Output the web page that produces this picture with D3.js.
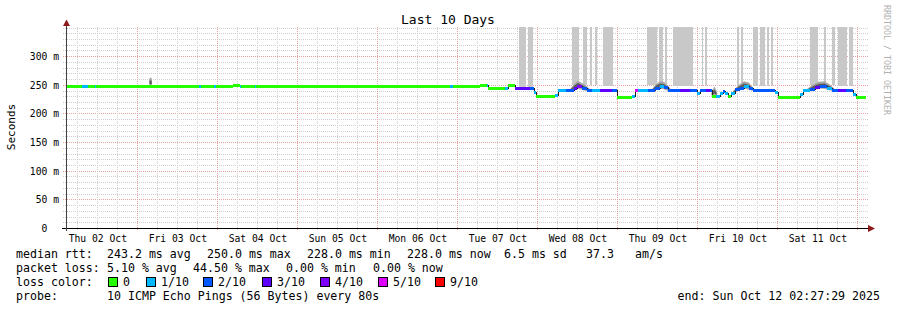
<!DOCTYPE html>
<html><head><meta charset="utf-8">
<script src="https://cdn.jsdelivr.net/npm/d3@7"></script>
<style>
body{margin:0;background:#fff}
svg{display:block}
text{font-family:"DejaVu Sans Mono",monospace;fill:#000}
</style>
</head><body>
<svg id="chart" width="897" height="310"></svg>
<script>
// ---------------- DATA ----------------
const title = "Last 10 Days";
const startTime = "10-02 02:27:29";
const endTime = "10-12 02:27:29";
const yTickValues = [0, 50, 100, 150, 200, 250, 300];
const yTickLabels = ["0  ", "50 m", "100 m", "150 m", "200 m", "250 m", "300 m"];
const xTickLabels = ["Thu 02 Oct","Fri 03 Oct","Sat 04 Oct","Sun 05 Oct","Mon 06 Oct","Tue 07 Oct","Wed 08 Oct","Thu 09 Oct","Fri 10 Oct","Sat 11 Oct"];
const xTickDays = ["10-02","10-03","10-04","10-05","10-06","10-07","10-08","10-09","10-10","10-11"];

// median rtt (ms) as steps, with loss level index per step
const medianTimes = ["10-02 02:27","10-02 07:15","10-02 09:05","10-02 11:10","10-02 11:35","10-03 18:20","10-03 18:50","10-03 22:50","10-03 23:20","10-04 04:35","10-04 06:40","10-04 07:05","10-04 11:10","10-04 11:35","10-06 00:40","10-06 21:40","10-06 22:35","10-06 23:45","10-07 06:40","10-07 08:45","10-07 09:12","10-07 14:10","10-07 15:05","10-07 17:10","10-07 21:40","10-07 22:50","10-07 23:35","10-08 05:10","10-08 06:05","10-08 08:30","10-08 10:50","10-08 11:45","10-08 13:15","10-08 14:45","10-08 16:15","10-08 18:40","10-08 22:15","10-08 23:45","10-09 04:15","10-09 05:10","10-09 06:05","10-09 09:05","10-09 11:10","10-09 12:40","10-09 13:50","10-09 15:05","10-09 18:40","10-09 21:40","10-09 23:45","10-10 00:40","10-10 02:28","10-10 03:40","10-10 04:15","10-10 05:28","10-10 06:40","10-10 07:35","10-10 08:10","10-10 09:05","10-10 10:00","10-10 11:10","10-10 12:40","10-10 13:50","10-10 15:20","10-10 16:35","10-10 23:10","10-10 23:55","10-11 06:40","10-11 07:35","10-11 09:40","10-11 11:10","10-11 12:40","10-11 14:45","10-11 16:15","10-11 18:05","10-11 20:30","10-11 22:35","10-11 23:30"];
const medianValues = [248,248,248,248,248,248,248,248,248,250,248,248,248,248,248,248,248,249,251,251,246,246,250,245,245,238,231,233,241,241,246,249,246,242,241,241,241,230,232,241,241,241,245,249,247,241,241,241,236,241,241,241,231,231,236,240,236,231,237,243,246,249,246,241,238,230,234,241,244,247,249,246,242,241,241,235,230];
const medianLoss = [0,1,0,1,0,1,0,1,0,0,1,0,1,0,0,1,0,0,0,1,0,1,0,3,2,1,0,1,1,2,3,4,2,2,1,3,2,0,1,5,1,2,2,1,2,2,3,2,1,2,3,2,0,1,1,2,1,0,1,2,2,1,2,2,1,0,1,1,2,3,2,1,2,3,2,1,0];

// loss legend
const lossLabels = ["0","1/10","2/10","3/10","4/10","5/10","9/10"];
const lossColors = ["#26ff00","#00b8ff","#0059ff","#5e00ff","#7e00ff","#dd00ff","#ff0000"];

// tall smoke bars (pings far above the median)
const barStarts = ["10-07 18:20","10-07 21:05","10-08 10:15","10-08 13:35","10-08 15:40","10-08 17:10","10-08 19:35","10-09 08:45","10-09 12:20","10-09 14:10","10-09 16:35","10-10 01:15","10-10 02:10","10-10 11:45","10-10 13:00","10-10 16:35","10-10 18:40","10-10 20:45","10-10 22:00","10-11 09:40","10-11 13:50","10-11 16:15","10-11 18:05","10-11 21:20"];
const barEnds   = ["10-07 20:30","10-07 22:35","10-08 12:20","10-08 14:45","10-08 16:15","10-08 17:45","10-08 22:35","10-09 11:45","10-09 13:35","10-09 14:45","10-09 22:35","10-10 01:35","10-10 02:45","10-10 12:20","10-10 13:35","10-10 18:05","10-10 20:10","10-10 21:20","10-10 22:35","10-11 12:05","10-11 14:25","10-11 17:10","10-11 20:45","10-11 22:35"];
const barLows   = [246,246,250,250,250,250,248,250,250,250,248,248,248,250,250,248,248,248,248,250,250,250,248,248];

// smoke around the median (null separates groups)
const smokeTimes = ["10-03 03:30","10-03 04:10",null,"10-08 09:40","10-08 10:50","10-08 12:00","10-08 13:15","10-08 14:25","10-08 15:40",null,"10-09 10:15","10-09 11:25","10-09 12:40","10-09 13:50","10-09 15:05","10-09 15:55",null,"10-10 04:10","10-10 05:00","10-10 05:40",null,"10-10 10:35","10-10 12:05","10-10 13:50","10-10 15:20","10-10 16:35","10-10 17:30",null,"10-11 08:40","10-11 10:25","10-11 12:10","10-11 14:00","10-11 15:45","10-11 17:10"];
const smokeLo = [247,247,null,240,241,244,242,240,240,null,240,242,244,243,240,240,null,230,230,230,null,234,240,244,242,240,240,null,239,241,244,244,241,240];
const smokeHi = [263,263,null,243,252,258,254,250,243,null,243,252,257,256,249,243,null,240,248,240,null,240,250,257,255,245,242,null,243,251,256,257,251,243];

// legend texts
const rttItems = ["243.2 ms avg","250.0 ms max","228.0 ms min","228.0 ms now","6.5 ms sd","37.3","am/s"];
const lossItems = ["5.10 % avg","44.50 % max","0.00 % min","0.00 % now"];
const probeText = "10 ICMP Echo Pings (56 Bytes) every 80s";
const endText = "end: Sun Oct 12 02:27:29 2025";
const credit = "RRDTOOL / TOBI OETIKER";

// ---------------- LAYOUT ----------------
const parse = s => d3.timeParse("%Y-%m-%d %H:%M")("2025-" + s.slice(0, 11));
const parseS = s => d3.timeParse("%Y-%m-%d %H:%M:%S")("2025-" + s);
const t0 = parseS(startTime), t1 = parseS(endTime);
const L = 66, R = 866, B = 228.5, T = 28;
const x = d3.scaleTime().domain([t0, t1]).range([L, R]);
const y = d3.scaleLinear().domain([0, 350]).range([B, T]);
const px = v => Math.floor(v) + 0.5;

const svg = d3.select("#chart");
svg.append("rect").attr("width", 897).attr("height", 310).attr("fill", "#fff");
const gGrid = svg.append("g").attr("shape-rendering", "crispEdges");

// horizontal grid
const hMinor = d3.range(10, 351, 10).filter(v => v % 50 !== 0 || v === 350);
gGrid.selectAll("line.hmin").data(hMinor).join("line").attr("class", "hmin")
  .attr("x1", 63).attr("x2", 869).attr("y1", d => px(y(d))).attr("y2", d => px(y(d)))
  .attr("stroke", "#cfcfcf").attr("stroke-dasharray", "1,1");
gGrid.selectAll("line.hmaj").data(yTickValues.filter(v => v > 0)).join("line").attr("class", "hmaj")
  .attr("x1", 63).attr("x2", 869).attr("y1", d => px(y(d))).attr("y2", d => px(y(d)))
  .attr("stroke", "#e8a0a0").attr("stroke-dasharray", "1,1");

// vertical grid
const sixHours = d3.timeHour.every(6).range(t0, t1).filter(d => d.getHours() !== 0);
const days = d3.timeDay.range(t0, t1);
gGrid.selectAll("line.vmin").data(sixHours).join("line").attr("class", "vmin")
  .attr("x1", d => px(x(d))).attr("x2", d => px(x(d))).attr("y1", 27).attr("y2", 231)
  .attr("stroke", "#cfcfcf").attr("stroke-dasharray", "1,1");
gGrid.selectAll("line.vmaj").data(days).join("line").attr("class", "vmaj")
  .attr("x1", d => px(x(d))).attr("x2", d => px(x(d))).attr("y1", 27).attr("y2", 231)
  .attr("stroke", "#e8a0a0").attr("stroke-dasharray", "1,1");

// tall gray bars
const gBars = svg.append("g").attr("shape-rendering", "crispEdges");
gBars.selectAll("rect").data(barStarts.map((s, i) => ({s: parse(s), e: parse(barEnds[i]), lo: barLows[i]})))
  .join("rect")
  .attr("x", d => Math.round(x(d.s))).attr("width", d => Math.max(1, Math.round(x(d.e)) - Math.round(x(d.s))))
  .attr("y", 27).attr("height", d => y(d.lo) - 27)
  .attr("fill", "#c8c8c8");

// smoke
const smoke = smokeTimes.map((t, i) => t === null ? null : {t: parse(t), lo: smokeLo[i], hi: smokeHi[i]});
const areaOuter = d3.area().defined(d => d !== null)
  .x(d => x(d.t)).y0(d => y(d.lo)).y1(d => y(d.hi));
const areaInner = d3.area().defined(d => d !== null)
  .x(d => x(d.t)).y0(d => y(d.lo + (d.hi - d.lo) * 0.3)).y1(d => y(d.hi - (d.hi - d.lo) * 0.3));
svg.append("path").datum(smoke).attr("d", areaOuter).attr("fill", "#a8a8a8");
svg.append("path").datum(smoke).attr("d", areaInner).attr("fill", "#5a5a5a");

// median: thin dark step line, then coloured loss bands on top
const med = medianTimes.map((t, i) => ({t: parse(t), v: medianValues[i], l: medianLoss[i]}));
const medLine = med.concat([{t: t1, v: medianValues[medianValues.length - 1]}]);
svg.append("path").datum(medLine)
  .attr("d", d3.line().curve(d3.curveStepAfter).x(d => Math.round(x(d.t))).y(d => Math.round(y(d.v)) + 0.5))
  .attr("fill", "none").attr("stroke", "#202020").attr("stroke-width", 1).attr("shape-rendering", "crispEdges");
const gMed = svg.append("g").attr("shape-rendering", "crispEdges");
gMed.selectAll("rect").data(med).join("rect")
  .attr("x", d => Math.round(x(d.t)))
  .attr("width", (d, i) => Math.max(1, Math.round(x(i + 1 < med.length ? med[i + 1].t : t1)) - Math.round(x(d.t))))
  .attr("y", d => Math.round(y(d.v)) - 1).attr("height", 3)
  .attr("fill", d => lossColors[d.l]);

// axes
const gAx = svg.append("g").attr("shape-rendering", "crispEdges");
gAx.append("line").attr("x1", 62).attr("x2", 870).attr("y1", 228.5).attr("y2", 228.5).attr("stroke", "#000");
gAx.append("line").attr("x1", 66.5).attr("x2", 66.5).attr("y1", 231).attr("y2", 24).attr("stroke", "#404040");
svg.append("path").attr("d", "M66.5,19.5 L63,26 L70,26 Z").attr("fill", "#8e1a1a");
svg.append("path").attr("d", "M875,228.5 L868,225 L868,232 Z").attr("fill", "#8e1a1a");

// y labels
svg.selectAll("text.yl").data(yTickValues).join("text").attr("class", "yl")
  .attr("x", 59).attr("y", d => px(y(d)) + 3.5).attr("text-anchor", "end")
  .attr("font-size", "9.7px").attr("xml:space", "preserve").style("white-space", "pre")
  .text((d, i) => yTickLabels[i]);

// x labels (centered at noon)
svg.selectAll("text.xl").data(xTickDays).join("text").attr("class", "xl")
  .attr("x", d => x(d3.timeHour.offset(parse(d + " 00:00"), 12))).attr("y", 241.5)
  .attr("text-anchor", "middle").attr("font-size", "9.7px")
  .text((d, i) => xTickLabels[i]);

// title, axis label, credit
svg.append("text").attr("x", 448).attr("y", 24).attr("text-anchor", "middle").attr("font-size", "13px").text(title);
svg.append("text").attr("transform", "translate(15,127) rotate(-90)").attr("text-anchor", "middle")
  .attr("font-size", "11px").text("Seconds");
svg.append("text").attr("transform", "translate(884,5) rotate(90)").attr("text-anchor", "start")
  .attr("font-size", "8.3px").style("fill", "#b0b0b0").text(credit);

// legend
const fs = "11.6px";
const leg = svg.append("g").attr("font-size", fs);
leg.append("text").attr("x", 16).attr("y", 258).text("median rtt:");
const rttX = [107, 207, 307, 407, 504, 586, 635];
rttItems.forEach((s, i) => leg.append("text").attr("x", rttX[i]).attr("y", 258).text(s));
leg.append("text").attr("x", 16).attr("y", 272).text("packet loss:");
const lossX = [107, 193, 286, 373];
lossItems.forEach((s, i) => leg.append("text").attr("x", lossX[i]).attr("y", 272).text(s));
leg.append("text").attr("x", 16).attr("y", 286).text("loss color:");
const boxX = [108, 146, 203, 262, 320, 378, 435];
lossLabels.forEach((s, i) => {
  leg.append("rect").attr("x", boxX[i] + 0.5).attr("y", 277.5).attr("width", 9).attr("height", 9)
    .attr("fill", lossColors[i]).attr("stroke", "#000").attr("stroke-width", 1).attr("shape-rendering", "crispEdges");
  leg.append("text").attr("x", boxX[i] + 15).attr("y", 286).text(s);
});
leg.append("text").attr("x", 16).attr("y", 300).text("probe:");
leg.append("text").attr("x", 107).attr("y", 300).text(probeText);
leg.append("text").attr("x", 880).attr("y", 300).attr("text-anchor", "end").text(endText);
</script>
</body></html>
